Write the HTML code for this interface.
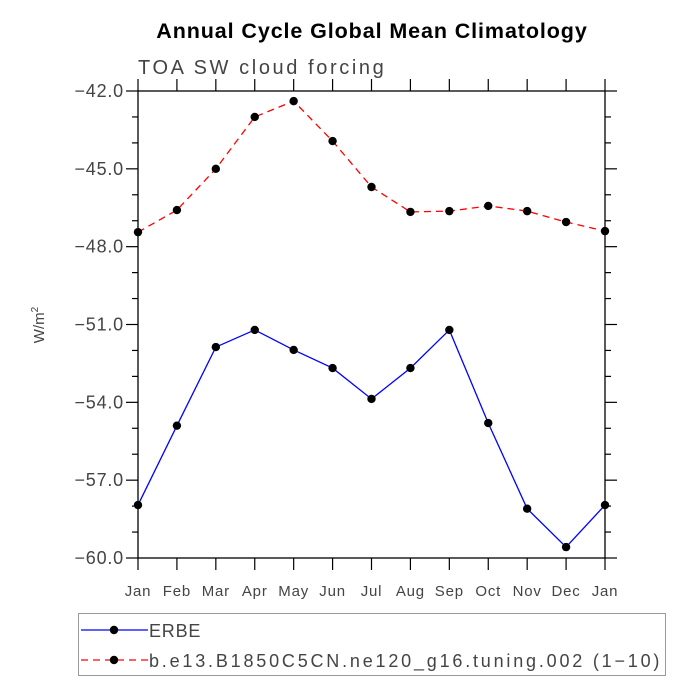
<!DOCTYPE html>
<html><head><meta charset="utf-8"><style>
body{margin:0;background:#fff}
svg text{font-family:"Liberation Sans",sans-serif}
</style></head><body>
<svg id="chart" width="694" height="694" viewBox="0 0 694 694" xmlns="http://www.w3.org/2000/svg">
<rect width="694" height="694" fill="#fff"/>
<text x="372" y="38" text-anchor="middle" font-size="21.5" font-weight="bold" fill="#000" letter-spacing="0.9">Annual Cycle Global Mean Climatology</text>
<text x="138" y="74" font-size="20" fill="#444" letter-spacing="2.6">TOA SW cloud forcing</text>
<text transform="translate(44,325) rotate(-90)" text-anchor="middle" font-size="15" fill="#444">W/m<tspan dy="-6" font-size="10">2</tspan></text>
<g id="axes"></g>
<g id="series"></g>
<g>
<rect x="78.5" y="613.5" width="587" height="62" fill="none" stroke="#999" stroke-width="1"/>
<g>
<line x1="81" y1="630" x2="148" y2="630" stroke="#0000ff" stroke-width="1.3"/>
<circle cx="114" cy="630" r="4.2" fill="#000"/>
<text x="149" y="637" font-size="18" fill="#444" letter-spacing="0.8">ERBE</text>
</g>
<g>
<line x1="81" y1="660" x2="148" y2="660" stroke="#ff0000" stroke-width="1.3" stroke-dasharray="7,5"/>
<circle cx="114" cy="660" r="4.2" fill="#000"/>
<text x="149" y="667" font-size="18" fill="#444" letter-spacing="2.8">b.e13.B1850C5CN.ne120_g16.tuning.002 (1−10)</text>
</g>
</g>
</svg>
<script>
const months=["Jan","Feb","Mar","Apr","May","Jun","Jul","Aug","Sep","Oct","Nov","Dec","Jan"];
const erbe=[-57.96,-54.9,-51.87,-51.21,-51.98,-52.68,-53.87,-52.68,-51.21,-54.8,-58.1,-59.58,-57.96];
const model=[-47.44,-46.59,-45.0,-43.0,-42.39,-43.93,-45.7,-46.66,-46.63,-46.43,-46.63,-47.05,-47.4];
const yTicks=[-42,-45,-48,-51,-54,-57,-60];
const yTickLabels=["−42.0","−45.0","−48.0","−51.0","−54.0","−57.0","−60.0"];
const X0=138,X1=605,Y0=91,Y1=558,YMAX=-42,YMIN=-60;
const NS="http://www.w3.org/2000/svg";
function xs(i){return X0+(X1-X0)*i/(months.length-1);}
function ys(v){return Y0+(YMAX-v)/(YMAX-YMIN)*(Y1-Y0);}
function mk(tag,attrs,parent){const e=document.createElementNS(NS,tag);for(const k in attrs)e.setAttribute(k,attrs[k]);parent.appendChild(e);return e;}
const ax=document.getElementById('axes');
const frame=mk('rect',{x:X0,y:Y0,width:X1-X0,height:Y1-Y0,fill:'none',stroke:'#000','stroke-width':1.3},ax);


for(let v=YMAX;v>=YMIN;v-=1){
  const y=ys(v);const major=(Math.round(v)%3===0);const L=major?12:6;
  const t1=mk('line',{x1:X0-L,y1:y,x2:X0,y2:y,stroke:'#000','stroke-width':1.2},ax);
  
  
  const t2=mk('line',{x1:X1,y1:y,x2:X1+L,y2:y,stroke:'#000','stroke-width':1.2},ax);
  
  
}
yTicks.forEach((v,i)=>{
  const t=mk('text',{x:X0-14,y:ys(v)+6,'text-anchor':'end','font-size':18,fill:'#444','letter-spacing':0.8},ax);
  t.textContent=yTickLabels[i];
  
  
});
months.forEach((m,i)=>{
  const x=xs(i);
  const a=mk('line',{x1:x,y1:Y1,x2:x,y2:Y1+12,stroke:'#000','stroke-width':1.2},ax);
  
  
  const b=mk('line',{x1:x,y1:Y0-12,x2:x,y2:Y0,stroke:'#000','stroke-width':1.2},ax);
  
  
  const t=mk('text',{x:x,y:Y1+38,'text-anchor':'middle','font-size':15,fill:'#444','letter-spacing':0.8},ax);
  t.textContent=m;
  
  
});
const sg=document.getElementById('series');
function drawSeries(vals,color,dash,name){
  const g=mk('g',{},sg);
  
  
  const pl=mk('polyline',{points:vals.map((v,i)=>xs(i)+','+ys(v)).join(' '),fill:'none',stroke:color,'stroke-width':1.3,'stroke-dasharray':dash},g);
  
  
  vals.forEach((v,i)=>{
    const c=mk('circle',{cx:xs(i),cy:ys(v),r:4.2,fill:'#000'},g);
    
    
  });
}
drawSeries(erbe,'#0000ff','none','erbe-series');
drawSeries(model,'#ff0000','7,5','model-series');
</script>
</body></html>
